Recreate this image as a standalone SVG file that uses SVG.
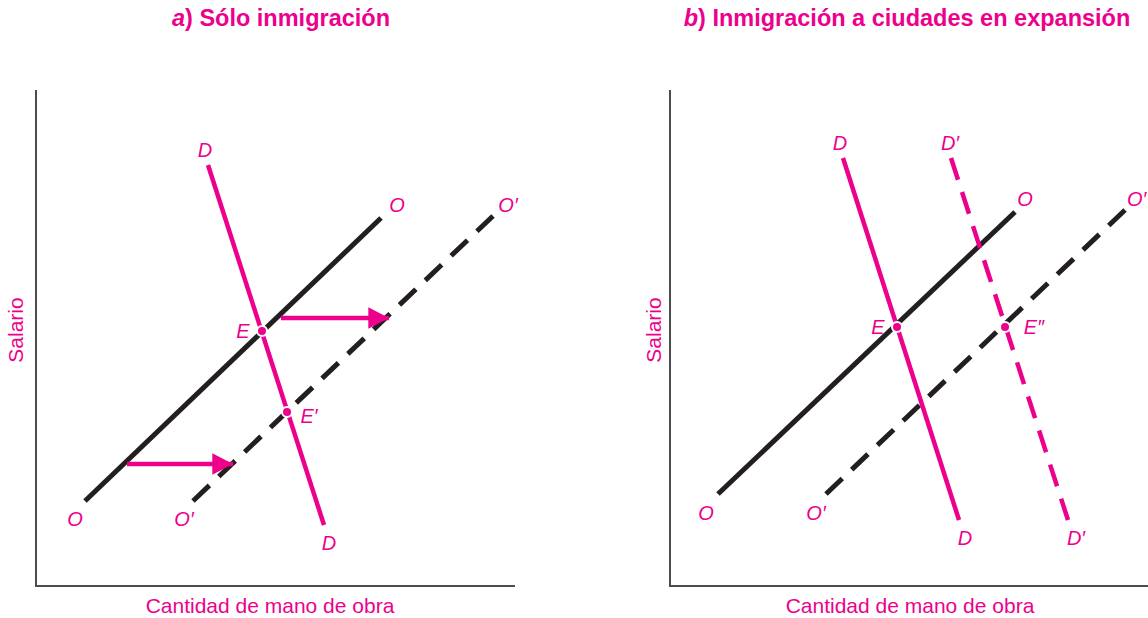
<svg xmlns="http://www.w3.org/2000/svg" width="1148" height="618" viewBox="0 0 1148 618">
<style>
.axis{stroke:#4d4d4d;stroke-width:2;fill:none}
.blk{stroke:#231f20;stroke-width:5;fill:none}
.pk{stroke:#ec008c;stroke-width:4.5;fill:none}
.dash{stroke-dasharray:22.6 13}
.ttl{font-family:"Liberation Sans",Arial,sans-serif;font-weight:bold;font-size:23.5px;fill:#ec008c}
.lbl{font-family:"Liberation Sans",Arial,sans-serif;font-style:italic;font-size:20px;fill:#ec008c}
.ax{font-family:"Liberation Sans",Arial,sans-serif;font-size:21px;fill:#ec008c}
.pt{fill:#ec008c;stroke:#fff;stroke-width:2}
</style>
<defs>
<marker id="ah" markerWidth="6" markerHeight="6" refX="4.6" refY="2.4" orient="auto" markerUnits="strokeWidth">
<path d="M0,0 L4.6,2.4 L0,4.8 Z" fill="#ec008c"/>
</marker>
</defs>
<rect width="1148" height="618" fill="#fff"/>
<text class="ttl" x="281" y="26" text-anchor="middle"><tspan font-style="italic">a</tspan>) Sólo inmigración</text>
<text class="ttl" x="907" y="26" text-anchor="middle"><tspan font-style="italic">b</tspan>) Inmigración a ciudades en expansión</text>
<g id="axes-a">
<path class="axis" d="M36,90 V586 H515"/>
<text class="ax" transform="translate(23,330) rotate(-90)" text-anchor="middle">Salario</text>
<text class="ax" x="270" y="613" text-anchor="middle">Cantidad de mano de obra</text>
</g>
<g id="axes-b">
<path class="axis" d="M670,90 V586 H1148"/>
<text class="ax" transform="translate(661,330) rotate(-90)" text-anchor="middle">Salario</text>
<text class="ax" x="910" y="613" text-anchor="middle">Cantidad de mano de obra</text>
</g>
<g id="connectors">
<line class="blk" x1="85" y1="501" x2="381" y2="218"/>
<line class="blk dash" x1="193" y1="501" x2="493" y2="216"/>
<line class="pk" x1="208" y1="165" x2="324" y2="525"/>
<line class="pk" x1="281" y1="318" x2="389" y2="318" marker-end="url(#ah)"/>
<line class="pk" x1="127" y1="464" x2="233" y2="464" marker-end="url(#ah)"/>
<line class="blk" x1="718" y1="494" x2="1015" y2="212"/>
<line class="blk dash" x1="826" y1="494" x2="1125" y2="210" style="stroke-dasharray:22.45 13"/>
<line class="pk" x1="843" y1="158" x2="959" y2="520"/>
<line class="pk dash" x1="951" y1="158" x2="1068" y2="520" style="stroke-dasharray:22.8 13"/>
</g>
<g id="labels-a">
<text class="lbl" x="205" y="157" text-anchor="middle">D</text>
<text class="lbl" x="397" y="212" text-anchor="middle">O</text>
<text class="lbl" x="508" y="212" text-anchor="middle">O′</text>
<text class="lbl" x="243" y="338" text-anchor="middle">E</text>
<text class="lbl" x="309" y="423" text-anchor="middle">E′</text>
<text class="lbl" x="75" y="526" text-anchor="middle">O</text>
<text class="lbl" x="184" y="526" text-anchor="middle">O′</text>
<text class="lbl" x="329" y="550" text-anchor="middle">D</text>
</g>
<g id="labels-b">
<text class="lbl" x="840" y="150" text-anchor="middle">D</text>
<text class="lbl" x="950" y="150" text-anchor="middle">D′</text>
<text class="lbl" x="1025" y="206" text-anchor="middle">O</text>
<text class="lbl" x="1127" y="206">O′</text>
<text class="lbl" x="878" y="334" text-anchor="middle">E</text>
<text class="lbl" x="1034" y="334" text-anchor="middle">E″</text>
<text class="lbl" x="706" y="520" text-anchor="middle">O</text>
<text class="lbl" x="816" y="520" text-anchor="middle">O′</text>
<text class="lbl" x="965" y="545" text-anchor="middle">D</text>
<text class="lbl" x="1076" y="545" text-anchor="middle">D′</text>
</g>
<g id="node-E"><circle class="pt" cx="262" cy="331" r="5"/></g>
<g id="node-E1"><circle class="pt" cx="287" cy="412" r="5"/></g>
<g id="node-Eb"><circle class="pt" cx="897" cy="327" r="5"/></g>
<g id="node-E2"><circle class="pt" cx="1005" cy="327" r="5"/></g>
</svg>
